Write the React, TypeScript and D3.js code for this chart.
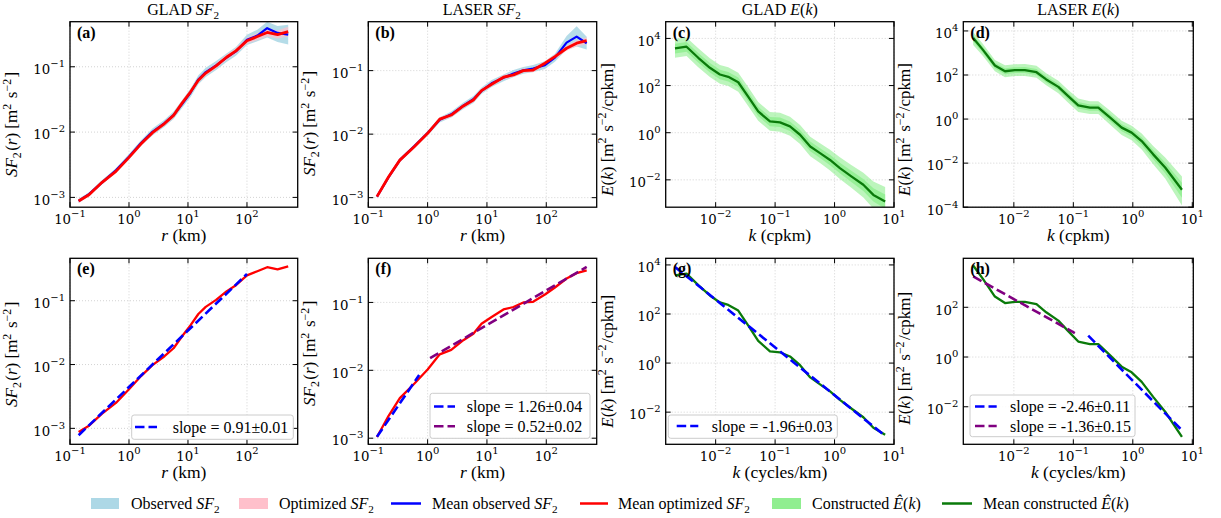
import React from "react";
import * as d3 from "d3";

// ---------------- DATA ----------------
// GLAD second-order structure function
const gladR = [0.14, 0.21, 0.35, 0.6, 1.0, 1.6, 2.5, 4, 5.7, 8, 11, 15, 20, 30, 45, 65, 100, 150, 220, 330, 500];
const gladObsMean = [0.00088, 0.00112, 0.0017, 0.0026, 0.0042, 0.0068, 0.0101, 0.0137, 0.0182, 0.027, 0.04, 0.064, 0.083, 0.105, 0.138, 0.172, 0.26, 0.3, 0.39, 0.33, 0.31];
const gladObsLo = [0.00082, 0.00104, 0.00158, 0.0024, 0.0038, 0.0061, 0.0089, 0.0121, 0.0158, 0.0235, 0.034, 0.054, 0.07, 0.089, 0.118, 0.148, 0.215, 0.245, 0.28, 0.24, 0.22];
const gladObsHi = [0.00095, 0.0012, 0.00185, 0.0028, 0.0046, 0.0075, 0.0113, 0.0155, 0.0207, 0.031, 0.046, 0.074, 0.097, 0.123, 0.16, 0.2, 0.31, 0.37, 0.49, 0.42, 0.44];
const gladOptMean = [0.00088, 0.0011, 0.0017, 0.0025, 0.0041, 0.0066, 0.0098, 0.0135, 0.018, 0.028, 0.041, 0.062, 0.08, 0.103, 0.14, 0.175, 0.25, 0.29, 0.335, 0.31, 0.345];
const gladOptLo = [0.00083, 0.00104, 0.0016, 0.00235, 0.0038, 0.0061, 0.0091, 0.0125, 0.0166, 0.0257, 0.0375, 0.057, 0.073, 0.094, 0.127, 0.158, 0.225, 0.255, 0.29, 0.27, 0.29];
const gladOptHi = [0.00093, 0.00117, 0.0018, 0.00265, 0.0044, 0.0071, 0.0105, 0.0146, 0.0195, 0.0305, 0.045, 0.068, 0.088, 0.113, 0.154, 0.193, 0.28, 0.33, 0.385, 0.36, 0.41];

// LASER second-order structure function
const laserR = [0.14, 0.22, 0.34, 0.6, 1.0, 1.6, 2.5, 4, 5.9, 8.1, 12, 19, 28, 41, 60, 95, 140, 220, 325, 480];
const laserObsMean = [0.00104, 0.0021, 0.0039, 0.0065, 0.0104, 0.0168, 0.0205, 0.028, 0.0355, 0.048, 0.063, 0.077, 0.09, 0.101, 0.108, 0.122, 0.16, 0.276, 0.343, 0.27];
const laserObsLo = [0.00097, 0.00196, 0.0036, 0.006, 0.0095, 0.0152, 0.0182, 0.0248, 0.031, 0.043, 0.055, 0.068, 0.079, 0.089, 0.095, 0.106, 0.138, 0.215, 0.24, 0.215];
const laserObsHi = [0.00112, 0.00228, 0.0042, 0.007, 0.0113, 0.0185, 0.0228, 0.0315, 0.04, 0.054, 0.071, 0.087, 0.102, 0.114, 0.123, 0.14, 0.185, 0.35, 0.5, 0.34];
const laserOptMean = [0.00104, 0.00214, 0.0039, 0.0064, 0.0103, 0.0172, 0.02, 0.0278, 0.0345, 0.0484, 0.061, 0.0787, 0.0856, 0.1, 0.102, 0.131, 0.166, 0.225, 0.27, 0.296];
const laserOptLo = [0.00098, 0.002, 0.00365, 0.006, 0.0096, 0.016, 0.0186, 0.0258, 0.032, 0.045, 0.0565, 0.073, 0.079, 0.093, 0.094, 0.121, 0.152, 0.205, 0.24, 0.26];
const laserOptHi = [0.0011, 0.00228, 0.00415, 0.0068, 0.011, 0.0184, 0.0215, 0.0298, 0.037, 0.052, 0.066, 0.085, 0.093, 0.108, 0.11, 0.142, 0.18, 0.245, 0.3, 0.335];

// GLAD constructed spectrum
const gladK = [0.00207, 0.00324, 0.0051, 0.008, 0.0118, 0.0163, 0.024, 0.035, 0.052, 0.082, 0.121, 0.178, 0.263, 0.39, 0.57, 0.84, 1.23, 1.94, 3.05, 4.5, 7.1];
const gladEMean = [3750, 4450, 1510, 570, 295, 235, 138, 35, 8, 3.0, 2.75, 1.86, 0.82, 0.26, 0.136, 0.07, 0.0315, 0.0138, 0.0062, 0.0023, 0.0012];
const gladELo = [1500, 1800, 600, 230, 120, 95, 55, 14, 3.2, 1.2, 1.1, 0.74, 0.33, 0.1, 0.052, 0.025, 0.011, 0.0045, 0.0018, 0.0006, 0.0003];
const gladEHi = [9500, 11000, 3800, 1450, 750, 600, 350, 90, 20, 7.5, 7, 4.8, 2.1, 0.68, 0.36, 0.19, 0.09, 0.042, 0.02, 0.0085, 0.005];
const gladEInnerLo = [2300, 2700, 950, 360, 185, 150, 88, 22, 5, 1.9, 1.75, 1.18, 0.52, 0.165, 0.085, 0.042, 0.019, 0.008, 0.0034, 0.0012, 0.0006];
const gladEInnerHi = [6000, 7000, 2400, 900, 470, 375, 220, 56, 12.6, 4.7, 4.4, 3.0, 1.3, 0.42, 0.22, 0.115, 0.053, 0.024, 0.011, 0.0044, 0.0024];

// LASER constructed spectrum
const laserK = [0.00207, 0.003, 0.0048, 0.0071, 0.0104, 0.0153, 0.024, 0.035, 0.056, 0.082, 0.121, 0.19, 0.263, 0.416, 0.65, 0.955, 1.41, 2.2, 3.5, 6.7];
const laserEMean = [4800, 1420, 270, 148, 165, 165, 134, 63, 29, 11, 4.2, 3.3, 3.3, 1.16, 0.41, 0.243, 0.1, 0.025, 0.0063, 0.00062];
const laserELo = [2300, 750, 150, 80, 90, 90, 75, 34, 15, 5.5, 2.1, 1.7, 1.7, 0.55, 0.19, 0.11, 0.042, 0.009, 0.002, 0.00012];
const laserEHi = [9000, 2600, 480, 280, 310, 320, 260, 120, 55, 21, 8.5, 6.5, 6.5, 2.4, 0.85, 0.5, 0.22, 0.06, 0.018, 0.0025];
const laserEInnerLo = [3300, 1030, 200, 108, 122, 122, 100, 46, 21, 7.8, 3.0, 2.37, 2.37, 0.8, 0.28, 0.163, 0.065, 0.015, 0.0035, 0.00027];
const laserEInnerHi = [6600, 1920, 360, 204, 226, 230, 186, 87, 40, 15.2, 6.0, 4.6, 4.6, 1.66, 0.59, 0.35, 0.15, 0.039, 0.0107, 0.0013];

// power-law fits (end points)
const fitGladSF2R = [0.14, 100];
const fitGladSF2V = [0.00078, 0.262];
const fitLaserSmallR = [0.14, 0.72];
const fitLaserSmallV = [0.00105, 0.0085];
const fitLaserLargeR = [1.1, 480];
const fitLaserLargeV = [0.0151, 0.334];
const fitGladEK = [0.00207, 7.1];
const fitGladEV = [8300, 0.00108];
const fitLaserSteepK = [0.178, 6.6];
const fitLaserSteepV = [7.2, 0.00117];
const fitLaserShallowK = [0.00207, 0.106];
const fitLaserShallowV = [1740, 9.2];

const slopeGladSF2 = "slope = 0.91±0.01";
const slopeLaserSmall = "slope = 1.26±0.04";
const slopeLaserLarge = "slope = 0.52±0.02";
const slopeGladE = "slope = -1.96±0.03";
const slopeLaserSteep = "slope = -2.46±0.11";
const slopeLaserShallow = "slope = -1.36±0.15";

// tick values
const sfTicksX = [0.1, 1, 10, 100];
const sfTicksY = [1e-3, 1e-2, 1e-1];
const ekTicksX = [1e-2, 1e-1, 1, 10];
const ekTicksY = [1e-4, 1e-2, 1, 1e2, 1e4];

// ---------------- STYLE ----------------
const SERIF = "'Liberation Serif', 'Times New Roman', serif";
const TICKFONT = "'DejaVu Serif', serif";
const C = {
  obsBand: "#add8e6",
  optBand: "#ffc0cb",
  obs: "#0000ff",
  opt: "#ff0000",
  eBand: "#90ee90",
  e: "#0a7a0a",
  purple: "#800080",
};

const p10 = (e: number) => Math.pow(10, e);

type Band = { x: number[]; lo: number[]; hi: number[]; fill: string; opacity: number };
type Line = { x: number[]; y: number[]; stroke: string; width: number; dash?: string };
type LegRow = { color: string; text: string; y: number };
type Panel = {
  id: string;
  left: number; right: number; top: number; bottom: number;
  xDom: [number, number]; yDom: [number, number];
  xTicks: number[]; yTicks: number[];
  title?: string;
  xlabel: "r" | "kc" | "kcyc";
  ylabel: "sf" | "ek";
  ylOff: number;
  bands: Band[]; lines: Line[];
  legend?: { x0: number; x1: number; y0: number; y1: number; sx0: number; sx1: number; tx: number; rows: LegRow[] };
};

const TOP = { top: 21.7, bottom: 207.2 };
const BOT = { top: 258.3, bottom: 444.3 };
const COL = [
  { left: 70, right: 297.7 },
  { left: 368.3, right: 596.7 },
  { left: 665.7, right: 894 },
  { left: 963.3, right: 1193.3 },
];
const DASH = "9.5,4";

const panels: Panel[] = [
  {
    id: "a", ...COL[0], ...TOP, xDom: [p10(-1), p10(2.86)], yDom: [p10(-3.15), p10(-0.31)],
    xTicks: sfTicksX, yTicks: sfTicksY, title: "GLAD-SF", xlabel: "r", ylabel: "sf", ylOff: 10,
    bands: [
      { x: gladR, lo: gladObsLo, hi: gladObsHi, fill: C.obsBand, opacity: 0.9 },
      { x: gladR, lo: gladOptLo, hi: gladOptHi, fill: C.optBand, opacity: 0.75 },
    ],
    lines: [
      { x: gladR, y: gladObsMean, stroke: C.obs, width: 2.2 },
      { x: gladR, y: gladOptMean, stroke: C.opt, width: 2.8 },
    ],
  },
  {
    id: "b", ...COL[1], ...TOP, xDom: [p10(-1), p10(2.85)], yDom: [p10(-3.15), p10(-0.23)],
    xTicks: sfTicksX, yTicks: sfTicksY, title: "LASER-SF", xlabel: "r", ylabel: "sf", ylOff: 9,
    bands: [
      { x: laserR, lo: laserObsLo, hi: laserObsHi, fill: C.obsBand, opacity: 0.9 },
      { x: laserR, lo: laserOptLo, hi: laserOptHi, fill: C.optBand, opacity: 0.75 },
    ],
    lines: [
      { x: laserR, y: laserObsMean, stroke: C.obs, width: 2.2 },
      { x: laserR, y: laserOptMean, stroke: C.opt, width: 2.8 },
    ],
  },
  {
    id: "c", ...COL[2], ...TOP, xDom: [p10(-2.84), 10], yDom: [p10(-3.16), p10(4.71)],
    xTicks: ekTicksX, yTicks: ekTicksY, title: "GLAD-E", xlabel: "kc", ylabel: "ek", ylOff: 15,
    bands: [
      { x: gladK, lo: gladELo, hi: gladEHi, fill: C.eBand, opacity: 0.6 },
      { x: gladK, lo: gladEInnerLo, hi: gladEInnerHi, fill: C.eBand, opacity: 0.85 },
    ],
    lines: [{ x: gladK, y: gladEMean, stroke: C.e, width: 2.3 }],
  },
  {
    id: "d", ...COL[3], ...TOP, xDom: [p10(-2.85), p10(1.017)], yDom: [1e-4, p10(4.42)],
    xTicks: ekTicksX, yTicks: ekTicksY, title: "LASER-E", xlabel: "kc", ylabel: "ek", ylOff: 15,
    bands: [
      { x: laserK, lo: laserELo, hi: laserEHi, fill: C.eBand, opacity: 0.6 },
      { x: laserK, lo: laserEInnerLo, hi: laserEInnerHi, fill: C.eBand, opacity: 0.85 },
    ],
    lines: [{ x: laserK, y: laserEMean, stroke: C.e, width: 2.3 }],
  },
  {
    id: "e", ...COL[0], ...BOT, xDom: [p10(-1), p10(2.86)], yDom: [p10(-3.25), p10(-0.335)],
    xTicks: sfTicksX, yTicks: sfTicksY, xlabel: "r", ylabel: "sf", ylOff: 3,
    bands: [],
    lines: [
      { x: gladR, y: gladOptMean, stroke: C.opt, width: 2.3 },
      { x: fitGladSF2R, y: fitGladSF2V, stroke: C.obs, width: 2.6, dash: DASH },
    ],
    legend: { x0: 131.7, x1: 293.3, y0: 415, y1: 439.3, sx0: 135, sx1: 157, tx: 172.7, rows: [{ color: C.obs, text: slopeGladSF2, y: 427 }] },
  },
  {
    id: "f", ...COL[1], ...BOT, xDom: [p10(-1), p10(2.85)], yDom: [p10(-3.09), p10(-0.35)],
    xTicks: sfTicksX, yTicks: sfTicksY, xlabel: "r", ylabel: "sf", ylOff: 2,
    bands: [],
    lines: [
      { x: laserR, y: laserOptMean, stroke: C.opt, width: 2.3 },
      { x: fitLaserSmallR, y: fitLaserSmallV, stroke: C.obs, width: 2.6, dash: DASH },
      { x: fitLaserLargeR, y: fitLaserLargeV, stroke: C.purple, width: 2.6, dash: DASH },
    ],
    legend: {
      x0: 430, x1: 590, y0: 393.3, y1: 438.3, sx0: 434, sx1: 455, tx: 466.7,
      rows: [
        { color: C.obs, text: slopeLaserSmall, y: 406.5 },
        { color: C.purple, text: slopeLaserLarge, y: 426.3 },
      ],
    },
  },
  {
    id: "g", ...COL[2], ...BOT, xDom: [p10(-2.84), 10], yDom: [p10(-3.31), p10(4.27)],
    xTicks: ekTicksX, yTicks: ekTicksY, xlabel: "kcyc", ylabel: "ek", ylOff: 10,
    bands: [],
    lines: [
      { x: gladK, y: gladEMean, stroke: C.e, width: 2.3 },
      { x: fitGladEK, y: fitGladEV, stroke: C.obs, width: 2.6, dash: DASH },
    ],
    legend: { x0: 668.3, x1: 837.3, y0: 415, y1: 438.3, sx0: 676.7, sx1: 698.3, tx: 711.7, rows: [{ color: C.obs, text: slopeGladE, y: 426 }] },
  },
  {
    id: "h", ...COL[3], ...BOT, xDom: [p10(-2.85), p10(1.017)], yDom: [p10(-3.51), p10(3.97)],
    xTicks: ekTicksX, yTicks: ekTicksY, xlabel: "kcyc", ylabel: "ek", ylOff: 7,
    bands: [],
    lines: [
      { x: laserK, y: laserEMean, stroke: C.e, width: 2.3 },
      { x: fitLaserSteepK, y: fitLaserSteepV, stroke: C.obs, width: 2.6, dash: DASH },
      { x: fitLaserShallowK, y: fitLaserShallowV, stroke: C.purple, width: 2.6, dash: DASH },
    ],
    legend: {
      x0: 970, x1: 1135, y0: 395, y1: 436.7, sx0: 975, sx1: 996.7, tx: 1010,
      rows: [
        { color: C.obs, text: slopeLaserSteep, y: 406.5 },
        { color: C.purple, text: slopeLaserShallow, y: 426 },
      ],
    },
  },
];

// ---------------- TEXT HELPERS ----------------
const sup = (s: string, fs: number) => (
  <>
    <tspan fontSize={fs * 0.7} dy={-fs * 0.38}>{s}</tspan>
    <tspan dy={fs * 0.38}>{"\u200A"}</tspan>
  </>
);
const sub = (s: string, fs: number) => (
  <>
    <tspan fontSize={fs * 0.7} dy={fs * 0.22}>{s}</tspan>
    <tspan dy={-fs * 0.22}>{"\u200A"}</tspan>
  </>
);

function expLabel(v: number) {
  const e = Math.round(Math.log10(v));
  return e < 0 ? "\u2212" + Math.abs(e) : String(e);
}

function Title({ kind }: { kind: string }) {
  const fs = 16;
  if (kind === "GLAD-SF" || kind === "LASER-SF")
    return (
      <>
        {kind.startsWith("GLAD") ? "GLAD " : "LASER "}
        <tspan fontStyle="italic">SF</tspan>
        {sub("2", fs)}
      </>
    );
  return (
    <>
      {kind.startsWith("GLAD") ? "GLAD " : "LASER "}
      <tspan fontStyle="italic">E</tspan>(<tspan fontStyle="italic">k</tspan>)
    </>
  );
}

function YLabel({ kind }: { kind: string }) {
  const fs = 17;
  if (kind === "sf")
    return (
      <>
        <tspan fontStyle="italic">SF</tspan>
        {sub("2", fs)}(<tspan fontStyle="italic">r</tspan>) [m{sup("2", fs)} s{sup("\u22122", fs)}]
      </>
    );
  return (
    <>
      <tspan fontStyle="italic">E</tspan>(<tspan fontStyle="italic">k</tspan>) [m{sup("2", fs)} s{sup("\u22122", fs)}/cpkm]
    </>
  );
}

function XLabel({ kind }: { kind: string }) {
  if (kind === "r") return (<><tspan fontStyle="italic">r</tspan> (km)</>);
  if (kind === "kc") return (<><tspan fontStyle="italic">k</tspan> (cpkm)</>);
  return (<><tspan fontStyle="italic">k</tspan> (cycles/km)</>);
}

// ---------------- PANEL ----------------
function PanelView({ p }: { p: Panel }) {
  const x = d3.scaleLog().domain(p.xDom).range([p.left, p.right]);
  const y = d3.scaleLog().domain(p.yDom).range([p.bottom, p.top]);
  const clipId = "clip-" + p.id;
  const inX = (v: number) => v >= p.xDom[0] * 0.999 && v <= p.xDom[1] * 1.001;
  const inY = (v: number) => v >= p.yDom[0] * 0.999 && v <= p.yDom[1] * 1.001;
  const xt = p.xTicks.filter(inX);
  const yt = p.yTicks.filter(inY);
  const cx = (p.left + p.right) / 2;
  const cy = (p.top + p.bottom) / 2;

  return (
    <g>
      <defs>
        <clipPath id={clipId}>
          <rect x={p.left} y={p.top} width={p.right - p.left} height={p.bottom - p.top} />
        </clipPath>
      </defs>
      {/* grid */}
      <g stroke="#c8c8c8" strokeWidth={0.8} strokeDasharray="1,2">
        {xt.map((t) => (
          <line key={"gx" + t} x1={x(t)} x2={x(t)} y1={p.top} y2={p.bottom} />
        ))}
        {yt.map((t) => (
          <line key={"gy" + t} x1={p.left} x2={p.right} y1={y(t)} y2={y(t)} />
        ))}
      </g>
      <g clipPath={`url(#${clipId})`}>
        {p.bands.map((b, i) => {
          const idx = b.x.map((_, j) => j);
          const area = d3
            .area<number>()
            .x((j) => x(b.x[j]))
            .y0((j) => y(b.lo[j]))
            .y1((j) => y(b.hi[j]));
          return <path key={"b" + i} d={area(idx) || ""} fill={b.fill} opacity={b.opacity} stroke="none" />;
        })}
        {p.lines.map((l, i) => {
          const idx = l.x.map((_, j) => j);
          const line = d3
            .line<number>()
            .x((j) => x(l.x[j]))
            .y((j) => y(l.y[j]));
          return (
            <path
              key={"l" + i}
              d={line(idx) || ""}
              fill="none"
              stroke={l.stroke}
              strokeWidth={l.width}
              strokeDasharray={l.dash}
              strokeLinejoin="round"
            />
          );
        })}
      </g>
      {/* spines */}
      <rect x={p.left} y={p.top} width={p.right - p.left} height={p.bottom - p.top} fill="none" stroke="#000" strokeWidth={1.3} />
      {/* ticks */}
      <g stroke="#000" strokeWidth={1}>
        {xt.map((t) => (
          <g key={"tx" + t}>
            <line x1={x(t)} x2={x(t)} y1={p.bottom} y2={p.bottom - 5} />
            <line x1={x(t)} x2={x(t)} y1={p.top} y2={p.top + 5} />
          </g>
        ))}
        {yt.map((t) => (
          <g key={"ty" + t}>
            <line x1={p.left} x2={p.left + 5} y1={y(t)} y2={y(t)} />
            <line x1={p.right} x2={p.right - 5} y1={y(t)} y2={y(t)} />
          </g>
        ))}
      </g>
      {/* tick labels */}
      <g fontFamily={TICKFONT} fontSize={13.3} fill="#000">
        {xt.map((t) => (
          <text key={"lx" + t} x={x(t)} y={p.bottom + 17} textAnchor="middle">
            10<tspan fontSize={10} dy={-7}>{expLabel(t)}</tspan>
          </text>
        ))}
        {yt.map((t) => (
          <text key={"ly" + t} x={p.left - 5} y={y(t) + 7.3} textAnchor="end">
            10<tspan fontSize={10} dy={-7}>{expLabel(t)}</tspan>
          </text>
        ))}
      </g>
      {/* panel letter */}
      <text x={p.left + 7} y={p.top + 16} fontFamily={SERIF} fontWeight="bold" fontSize={16}>
        ({p.id})
      </text>
      {/* title */}
      {p.title && (
        <text x={cx} y={15} textAnchor="middle" fontFamily={SERIF} fontSize={16}>
          <Title kind={p.title} />
        </text>
      )}
      {/* x label */}
      <text x={cx} y={p.bottom + 34} textAnchor="middle" fontFamily={SERIF} fontSize={17.5}>
        <XLabel kind={p.xlabel} />
      </text>
      {/* y label */}
      <text
        transform={`translate(${p.left - 53},${cy + p.ylOff}) rotate(-90)`}
        textAnchor="middle"
        fontFamily={SERIF}
        fontSize={17}
      >
        <YLabel kind={p.ylabel} />
      </text>
      {/* legend */}
      {p.legend && (
        <g>
          <rect
            x={p.legend.x0}
            y={p.legend.y0}
            width={p.legend.x1 - p.legend.x0}
            height={p.legend.y1 - p.legend.y0}
            rx={2.5}
            fill="#fff"
            fillOpacity={0.85}
            stroke="#cccccc"
            strokeWidth={1}
          />
          {p.legend.rows.map((r, i) => (
            <g key={"lr" + i}>
              <line x1={p.legend!.sx0} x2={p.legend!.sx1} y1={r.y} y2={r.y} stroke={r.color} strokeWidth={2.6} strokeDasharray={DASH} />
              <text x={p.legend!.tx} y={r.y + 5.5} fontFamily={SERIF} fontSize={16}>
                {r.text}
              </text>
            </g>
          ))}
        </g>
      )}
    </g>
  );
}

// ---------------- BOTTOM LEGEND ----------------
function BottomLegend() {
  const fs = 16;
  const ty = 509;
  const py0 = 498;
  const ph = 11;
  const ly = 503.5;
  return (
    <g fontFamily={SERIF} fontSize={fs}>
      <rect x={91} y={py0} width={28} height={ph} fill={C.obsBand} />
      <text x={131} y={ty}>
        Observed <tspan fontStyle="italic">SF</tspan>{sub("2", fs)}
      </text>
      <rect x={239} y={py0} width={29} height={ph} fill={C.optBand} />
      <text x={279} y={ty}>
        Optimized <tspan fontStyle="italic">SF</tspan>{sub("2", fs)}
      </text>
      <line x1={391} x2={421} y1={ly} y2={ly} stroke={C.obs} strokeWidth={2.5} />
      <text x={432} y={ty}>
        Mean observed <tspan fontStyle="italic">SF</tspan>{sub("2", fs)}
      </text>
      <line x1={580} x2={608} y1={ly} y2={ly} stroke={C.opt} strokeWidth={2.5} />
      <text x={618} y={ty}>
        Mean optimized <tspan fontStyle="italic">SF</tspan>{sub("2", fs)}
      </text>
      <rect x={772} y={py0} width={29} height={ph} fill={C.eBand} />
      <text x={812} y={ty}>
        Constructed <tspan fontStyle="italic">Ê</tspan>(<tspan fontStyle="italic">k</tspan>)
      </text>
      <line x1={942} x2={972} y1={ly} y2={ly} stroke={C.e} strokeWidth={2.5} />
      <text x={983} y={ty}>
        Mean constructed <tspan fontStyle="italic">Ê</tspan>(<tspan fontStyle="italic">k</tspan>)
      </text>
    </g>
  );
}

export default function App() {
  return (
    <div style={{ position: "absolute", left: 0, top: 0 }}>
      <svg width={1221} height={518} viewBox="0 0 1221 518" style={{ display: "block", background: "#fff" }}>
        <rect x={0} y={0} width={1221} height={518} fill="#fff" />
        {panels.map((p) => (
          <PanelView key={p.id} p={p} />
        ))}
        <BottomLegend />
      </svg>
    </div>
  );
}
